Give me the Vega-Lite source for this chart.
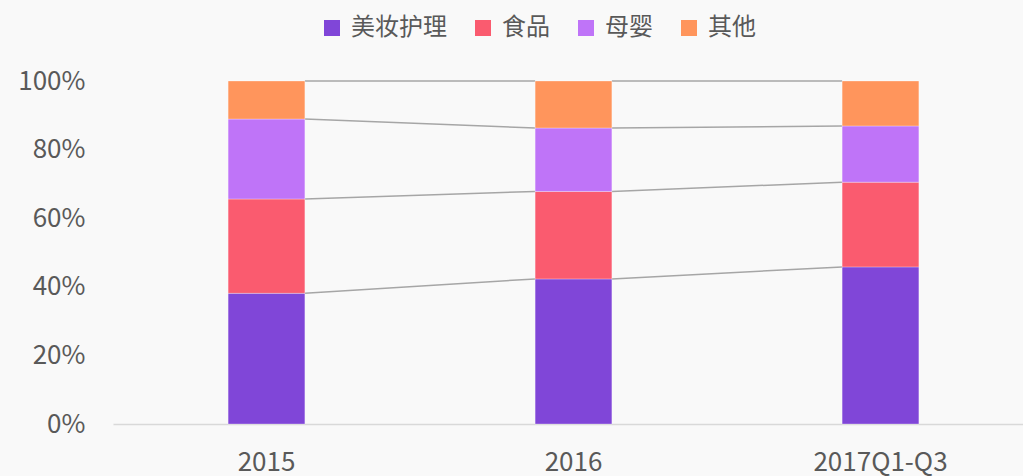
{
  "$schema": "https://vega.github.io/schema/vega-lite/v6.json",
  "width": 921,
  "height": 343,
  "autosize": {"type": "none"},
  "padding": {"left": 113, "top": 81, "right": 0, "bottom": 52},
  "background": "#F9F9F9",
  "config": {
    "view": {"stroke": null},
    "font": "Noto Sans CJK SC",
    "axis": {"labelColor": "#595959", "labelFont": "Noto Sans CJK SC", "grid": false, "ticks": false, "title": null},
    "legend": {"labelColor": "#595959", "labelFont": "Noto Sans CJK SC"}
  },
  "datasets": {
    "shares": [
      {"period": "2015", "category": "美妆护理", "rank": 1, "value": 38.1},
      {"period": "2015", "category": "食品", "rank": 2, "value": 27.5},
      {"period": "2015", "category": "母婴", "rank": 3, "value": 23.3},
      {"period": "2015", "category": "其他", "rank": 4, "value": 11.1},
      {"period": "2016", "category": "美妆护理", "rank": 1, "value": 42.3},
      {"period": "2016", "category": "食品", "rank": 2, "value": 25.5},
      {"period": "2016", "category": "母婴", "rank": 3, "value": 18.5},
      {"period": "2016", "category": "其他", "rank": 4, "value": 13.7},
      {"period": "2017Q1-Q3", "category": "美妆护理", "rank": 1, "value": 45.8},
      {"period": "2017Q1-Q3", "category": "食品", "rank": 2, "value": 24.7},
      {"period": "2017Q1-Q3", "category": "母婴", "rank": 3, "value": 16.4},
      {"period": "2017Q1-Q3", "category": "其他", "rank": 4, "value": 13.1}
    ],
    "links": [
      {"from": "2015", "to": "2016", "level": "美妆护理", "y_from": 38.1, "y_to": 42.3},
      {"from": "2015", "to": "2016", "level": "食品", "y_from": 65.6, "y_to": 67.8},
      {"from": "2015", "to": "2016", "level": "母婴", "y_from": 88.9, "y_to": 86.3},
      {"from": "2015", "to": "2016", "level": "其他", "y_from": 100, "y_to": 100},
      {"from": "2016", "to": "2017Q1-Q3", "level": "美妆护理", "y_from": 42.3, "y_to": 45.8},
      {"from": "2016", "to": "2017Q1-Q3", "level": "食品", "y_from": 67.8, "y_to": 70.5},
      {"from": "2016", "to": "2017Q1-Q3", "level": "母婴", "y_from": 86.3, "y_to": 86.9},
      {"from": "2016", "to": "2017Q1-Q3", "level": "其他", "y_from": 100, "y_to": 100}
    ]
  },
  "layer": [
    {
      "data": {"name": "links"},
      "mark": {"type": "rule", "color": "#A6A6A6", "strokeWidth": 1.5},
      "encoding": {
        "x": {"field": "from", "type": "nominal", "bandPosition": 1},
        "x2": {"field": "to", "bandPosition": 0},
        "y": {"field": "y_from", "type": "quantitative"},
        "y2": {"field": "y_to"}
      }
    },
    {
      "data": {"name": "shares"},
      "mark": {"type": "bar", "stroke": "#FFFFFF", "strokeWidth": 0.5, "strokeOpacity": 0.6},
      "encoding": {
        "x": {
          "field": "period", "type": "nominal",
          "scale": {"domain": ["2015", "2016", "2017Q1-Q3"], "paddingInner": 0.75, "paddingOuter": 0.375},
          "axis": {"labelAngle": 0, "labelAlign": "center", "bandPosition": 0.5, "labelFontSize": 26, "labelPadding": 38, "domainColor": "#D9D9D9", "domainWidth": 1.5}
        },
        "y": {
          "field": "value", "type": "quantitative", "stack": "zero",
          "scale": {"domain": [0, 100], "nice": false},
          "axis": {"values": [0, 20, 40, 60, 80, 100], "labelExpr": "datum.value + '%'", "labelFontSize": 26, "labelPadding": 28, "domain": false}
        },
        "color": {
          "field": "category", "type": "nominal",
          "scale": {"domain": ["美妆护理", "食品", "母婴", "其他"], "range": ["#8046D8", "#FA5B6F", "#BF74F8", "#FF955C"]},
          "legend": {
            "title": null, "orient": "none", "direction": "horizontal",
            "legendX": 207, "legendY": -65,
            "symbolType": "square", "symbolSize": 256, "symbolStrokeWidth": 0,
            "labelFontSize": 24, "labelOffset": 7, "columnPadding": 24
          }
        },
        "order": {"field": "rank", "type": "quantitative", "sort": "ascending"}
      }
    }
  ]
}
